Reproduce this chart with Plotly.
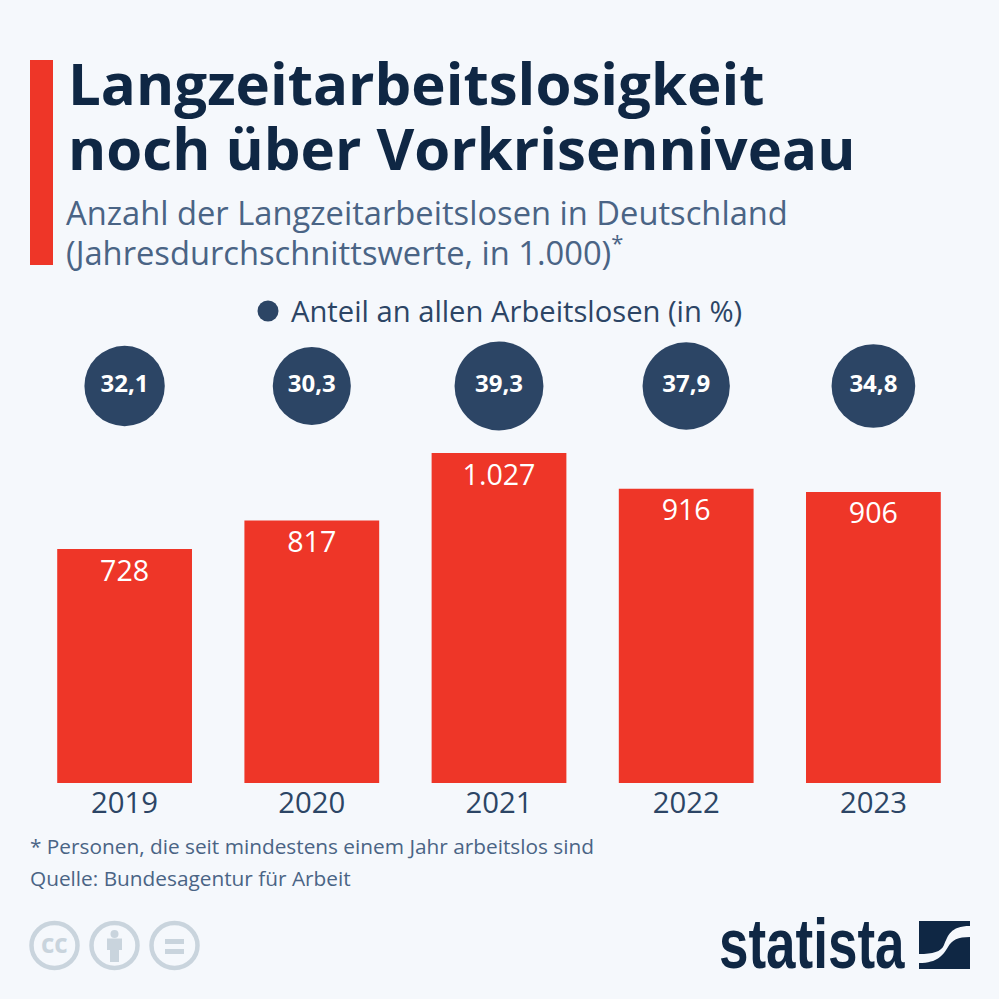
import plotly.graph_objects as go

years = ["2019", "2020", "2021", "2022", "2023"]
unemployed = [728, 817, 1027, 916, 906]
unemployed_labels = ["728", "817", "1.027", "916", "906"]
share = [32.1, 30.3, 39.3, 37.9, 34.8]
share_labels = ["32,1", "30,3", "39,3", "37,9", "34,8"]
share_row = ["Anteil"] * 5

W = H = 999
BG = "#f5f8fc"
RED = "#ee3628"
NAVY = "#0f2744"
SLATE = "#2c4565"
BLUE = "#4a6485"
GREY = "#c9d4dd"
FONT = "Open Sans"

px = lambda v: v / W
py = lambda v: 1 - v / H

fig = go.Figure()
fig.add_trace(go.Bar(
    x=years, y=unemployed, text=unemployed_labels, textposition="inside",
    insidetextanchor="end", textangle=0, constraintext="none",
    textfont=dict(family=FONT, size=28.6, color="white"),
    marker=dict(color=RED, line=dict(width=0)), showlegend=False,
    hoverinfo="skip", xaxis="x", yaxis="y",
))
fig.add_trace(go.Scatter(
    x=years, y=share_row, mode="markers+text", text=share_labels,
    textposition="middle center",
    textfont=dict(family=FONT, size=24, color="white", weight=700),
    marker=dict(color=SLATE, opacity=1, size=share, sizemode="area", sizeref=0.00994, line=dict(width=0)),
    showlegend=False, hoverinfo="skip", xaxis="x", yaxis="y2", cliponaxis=False,
))

def txt(s, x, y, size, color, weight=400, family=FONT, anchor="left"):
    fig.add_annotation(text=s, x=px(x), y=py(y), xref="paper", yref="paper",
                       xanchor=anchor, yanchor="middle", showarrow=False,
                       font=dict(family=family, size=size, color=color, weight=weight),
                       borderpad=0, borderwidth=0)

txt("Langzeitarbeitslosigkeit", 68, 82, 58.2, NAVY, 700)
txt("noch über Vorkrisenniveau", 68, 147, 58.2, NAVY, 700)
txt("Anzahl der Langzeitarbeitslosen in Deutschland", 66, 213, 32.7, BLUE)
txt('(Jahresdurchschnittswerte, in 1.000)<sup><span style="font-size:22px">*</span></sup>', 66, 251, 32.7, BLUE)
txt("Anteil an allen Arbeitslosen (in %)", 291, 311, 29.2, SLATE)
txt("* Personen, die seit mindestens einem Jahr arbeitslos sind", 30, 846, 20.8, BLUE)
txt("Quelle: Bundesagentur für Arbeit", 30, 878, 20.8, BLUE)
txt("statista", 719, 949, 53, NAVY, 700, "Liberation Sans")
txt("cc", 54.5, 943, 26, GREY, 700, anchor="center")

shapes = [dict(type="rect", xref="paper", yref="paper", x0=px(30), x1=px(53), y0=py(60), y1=py(265),
               fillcolor=RED, line_width=0, layer="below"),
          dict(type="circle", xref="paper", yref="paper", x0=px(257.5), x1=px(278.5), y0=py(321.5), y1=py(300.5),
               fillcolor=SLATE, line_width=0)]
for cx in (54.5, 114.5, 174.5):
    shapes.append(dict(type="circle", xref="paper", yref="paper", x0=px(cx-23), x1=px(cx+23),
                       y0=py(968), y1=py(923), line=dict(color=GREY, width=4.5), fillcolor="rgba(0,0,0,0)"))
shapes.append(dict(type="circle", xref="paper", yref="paper", x0=px(110.5), x1=px(118.5), y0=py(938), y1=py(930),
                   fillcolor=GREY, line_width=0))
shapes.append(dict(type="rect", xref="paper", yref="paper", x0=px(107), x1=px(122), y0=py(950), y1=py(938.5),
                   fillcolor=GREY, line_width=0))
shapes.append(dict(type="rect", xref="paper", yref="paper", x0=px(110), x1=px(119), y0=py(962), y1=py(950),
                   fillcolor=GREY, line_width=0))
for y0 in (939, 949):
    shapes.append(dict(type="rect", xref="paper", yref="paper", x0=px(165), x1=px(184), y0=py(y0+5), y1=py(y0),
                       fillcolor=GREY, line_width=0))

def P(x, y):
    return f"{px(x):.5f} {py(y):.5f}"
shapes.append(dict(type="path", xref="paper", yref="paper", fillcolor=NAVY, line_width=0,
    path=f"M {P(919,921)} L {P(970,921)} L {P(970,926)} C {P(950,926)} {P(948,936)} {P(944,945)} C {P(941,952)} {P(933,954)} {P(919,954)} Z"))
shapes.append(dict(type="path", xref="paper", yref="paper", fillcolor=NAVY, line_width=0,
    path=f"M {P(970,937)} L {P(970,969)} L {P(919,969)} L {P(919,963)} C {P(938,963)} {P(943,955)} {P(948,947)} C {P(952,940)} {P(958,937)} {P(970,937)} Z"))

fig.update_layout(
    width=W, height=H, margin=dict(l=0, r=0, t=0, b=0),
    paper_bgcolor=BG, plot_bgcolor=BG, shapes=shapes,
    font=dict(family=FONT), bargap=0.28, showlegend=False,
    xaxis=dict(domain=[px(31), px(967)], type="category", range=[-0.5, 4.5], showgrid=False, showline=False,
               zeroline=False, ticks="", tickfont=dict(family=FONT, size=29.3, color=SLATE), anchor="y"),
    yaxis=dict(domain=[py(783), py(453)], range=[0, 1027], showgrid=False, zeroline=False,
               showticklabels=False, ticks=""),
    yaxis2=dict(domain=[py(431), py(341)], type="category", showgrid=False, zeroline=False,
                showticklabels=False, ticks="", anchor="x"),
)
post = """
document.body.style.margin='0';
document.querySelectorAll('.annotation-text').forEach(function(t){
  if(t.textContent==='statista'){
    var b=t.getBBox(), base=b.y+b.height*0.8, s=1.33;
    t.setAttribute('transform','translate(0,'+(base*(1-s))+') scale(1,'+s+')');
  }
});
document.querySelectorAll('.bars text.bartext').forEach(function(t){
  t.setAttribute('transform','translate(0,-2.5) '+(t.getAttribute('transform')||''));
});
"""
fig.write_html("out.html", post_script=post, config={"displayModeBar": False})
